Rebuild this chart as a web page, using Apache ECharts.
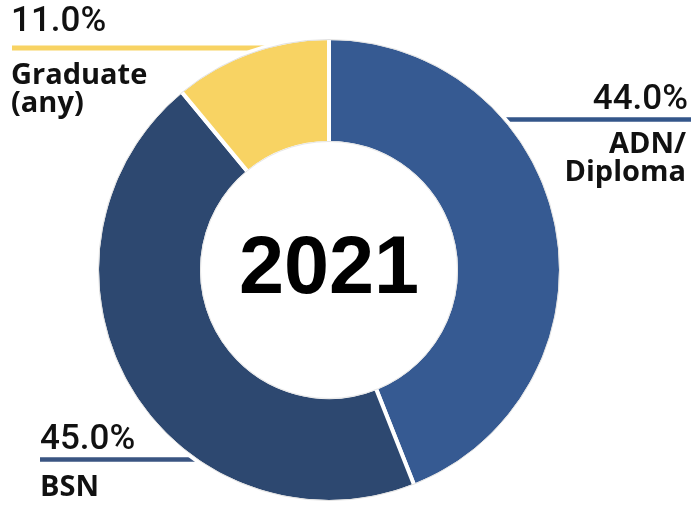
<!DOCTYPE html>
<html><head><meta charset="utf-8">
<script src="https://cdn.jsdelivr.net/npm/echarts@6/dist/echarts.min.js"></script>
<style>html,body{margin:0;padding:0;background:#fff}#c{width:692px;height:505px}</style>
</head><body><div id="c"></div>
<script>
const categories = ['ADN/\nDiploma', 'BSN', 'Graduate\n(any)'];
const values = [44.0, 45.0, 11.0];
const colors = ['#365a92', '#2d4870', '#f8d363'];
const lineColors = ['#34568a', '#3a5582', '#f8d363'];
const centerTitle = '2021';

const cx = 329, cy = 270, rOut = 232, rIn = 127;
const layouts = [
  {align:'right', x:688, pctY:100, lineY:119.5, lx1:470, lx2:691, nameY:131},
  {align:'left', x:40, pctY:440, lineY:459.5, lx1:40, lx2:230, nameY:474},
  {align:'left', x:11, pctY:22, lineY:48, lx1:12, lx2:330, nameY:62}
];
const pctFont = '500 35px Roboto';
const nameFont = 'bold 29px "Open Sans"';

const graphics = [];
values.forEach((v, i) => {
  const L = layouts[i];
  graphics.push({type:'line', z:1, shape:{x1:L.lx1, y1:L.lineY, x2:L.lx2, y2:L.lineY},
    style:{stroke:lineColors[i], lineWidth:i===2?5:4.5}});
  graphics.push({type:'text', z:10, x:L.x, y:L.pctY,
    style:{text:v.toFixed(1)+'%', font:pctFont, fill:'#111', align:L.align, verticalAlign:'middle'}});
  graphics.push({type:'text', z:10, x:L.x - (i===0?2:0), y:L.nameY,
    style:{text:categories[i], font:nameFont, fill:'#111', align:L.align, verticalAlign:'top', lineHeight:28}});
});
graphics.push({type:'circle', z:100, shape:{cx:cx, cy:cy, r:230.5}, style:{fill:'none', stroke:'#e2e2e2', lineWidth:1}});
graphics.push({type:'circle', z:100, shape:{cx:cx, cy:cy, r:128.5}, style:{fill:'none', stroke:'#e6e6e6', lineWidth:1}});
graphics.push({type:'text', z:10, x:cx, y:cy+1,
  style:{text:centerTitle, font:'bold 81px "Liberation Sans"', fill:'#000', align:'center', verticalAlign:'middle'}});

const chart = echarts.init(document.getElementById('c'), null, {renderer:'canvas'});
chart.setOption({
  animation:false,
  backgroundColor:'#fff',
  graphic:{elements:graphics},
  series:[{
    type:'pie', z:2,
    center:[cx, cy], radius:[rIn, rOut],
    startAngle:90, clockwise:true,
    label:{show:false}, labelLine:{show:false},
    emphasis:{disabled:true},
    itemStyle:{borderColor:'#fff', borderWidth:4},
    data: values.map((v, i) => ({value:v, name:categories[i], itemStyle:{color:colors[i]}}))
  }]
});
</script></body></html>
